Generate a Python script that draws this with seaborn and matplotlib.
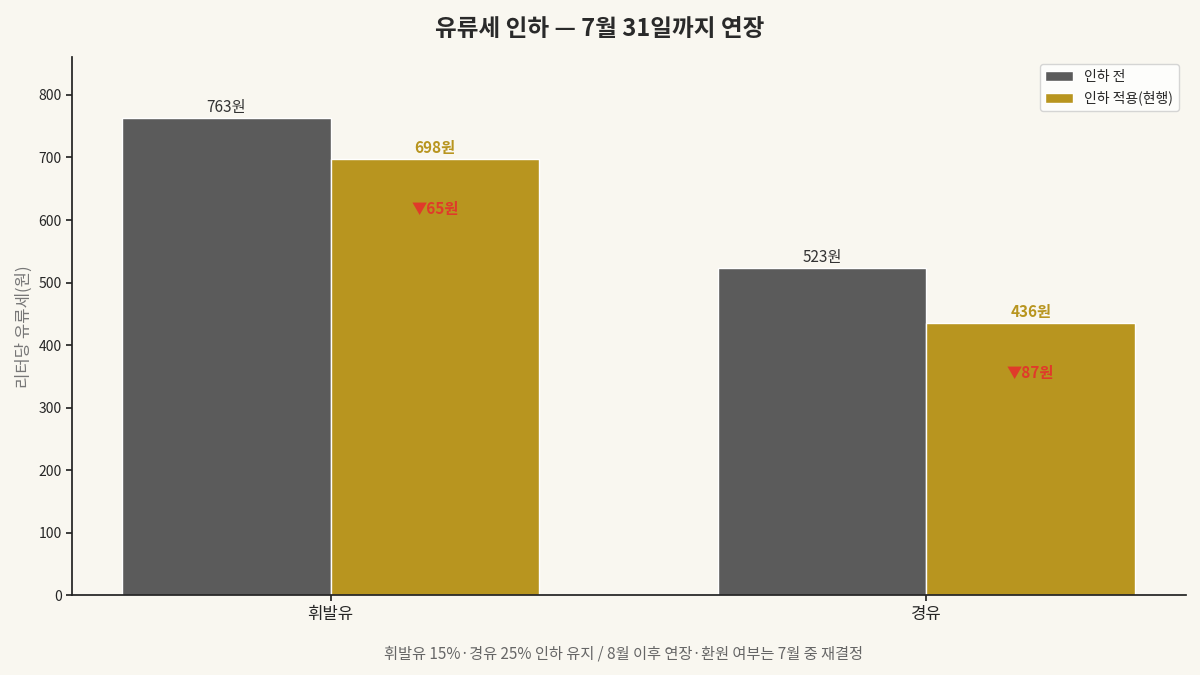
import matplotlib
matplotlib.use("Agg")
import matplotlib.pyplot as plt
import pandas as pd
import seaborn as sns

fuels = ["휘발유", "경유"]
series = ["인하 전", "인하 적용(현행)"]
before = [763, 523]
after = [698, 436]
cuts = [65, 87]

bg = "#f9f7f0"
colors = ["#5b5b5b", "#b8951f"]

sns.set_theme(style="white")
plt.rcParams["font.family"] = ["Noto Sans CJK KR", "DejaVu Sans"]

df = pd.DataFrame({
    "fuel": fuels * 2,
    "series": [series[0]] * 2 + [series[1]] * 2,
    "value": before + after,
})

fig, ax = plt.subplots(figsize=(12, 6.75), dpi=100)
fig.patch.set_facecolor(bg)
ax.set_facecolor(bg)

sns.barplot(data=df, x="fuel", y="value", hue="series", palette=colors, saturation=1,
            width=0.7, edgecolor="white", linewidth=1, ax=ax)

for i, cont in enumerate(ax.containers):
    for j, bar in enumerate(cont):
        cx = bar.get_x() + bar.get_width() / 2
        h = bar.get_height()
        if i == 0:
            ax.text(cx, h + 4, f"{int(h)}원", ha="center", va="bottom", fontsize=11, color="#333333")
        else:
            ax.text(cx, h + 4, f"{int(h)}원", ha="center", va="bottom", fontsize=11,
                    color=colors[1], fontweight="bold")
            ax.text(cx, h - 80, f"▼{cuts[j]}원", ha="center", va="center", fontsize=11,
                    color="#e03a2a", fontweight="bold")

ax.set_ylim(0, 860)
ax.set_xlim(-0.434, 1.435)
ax.set_xlabel("")
ax.set_ylabel("리터당 유류세(원)", fontsize=12, color="#777777")
ax.tick_params(axis="x", labelsize=12, length=4, bottom=True)
ax.tick_params(axis="y", labelsize=10, length=4, left=True)
for s in ("left", "bottom"):
    ax.spines[s].set_color("#222222")
sns.despine(ax=ax)
ax.legend(title=None, loc="upper right", fontsize=10, frameon=True, facecolor="white")

fig.suptitle("유류세 인하 — 7월 31일까지 연장", fontsize=17, fontweight="bold", color="#2a2a2a", y=0.975)
fig.text(0.52, 0.025, "휘발유 15%·경유 25% 인하 유지 / 8월 이후 연장·환원 여부는 7월 중 재결정",
         ha="center", fontsize=11, color="#666666")
fig.subplots_adjust(left=0.06, right=0.988, top=0.915, bottom=0.118)
fig.savefig("out.png", dpi=100, facecolor=bg)
